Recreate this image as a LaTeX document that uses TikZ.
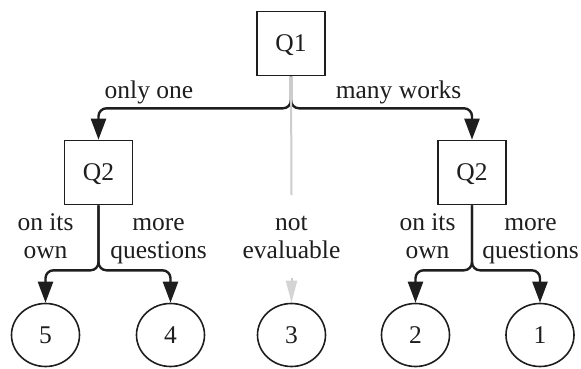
\documentclass[tikz,border=0pt]{standalone}
\usepackage{fontspec}
\setmainfont{Liberation Serif}
\usetikzlibrary{arrows.meta,shapes.geometric}
\definecolor{ink}{RGB}{30,30,30}
\definecolor{lightline}{RGB}{205,205,205}
\definecolor{lighttip}{RGB}{212,212,212}
\begin{document}
\begin{tikzpicture}[x=1pt,y=-1pt,
  every node/.style={font=\fontsize{25.5}{28.5}\selectfont, text=ink},
  qbox/.style={draw=ink, line width=1.6pt, rectangle, minimum width=68pt, minimum height=64pt, inner sep=0pt, text depth=0pt},
  leaf/.style={draw=ink, line width=1.6pt, ellipse, minimum width=68pt, minimum height=63pt, inner sep=0pt},
  conn/.style={draw=ink, line width=2.4pt, rounded corners=8pt, -{Triangle[length=21pt,width=15pt,sharp]}},
  greyconn/.style={draw=lightline, line width=2pt},
  lbl/.style={align=center, inner sep=0pt}
]
\useasboundingbox (0,0) rectangle (581,369);

% nodes
\node[qbox] (q1) at (291,43.5) {Q1};
\node[qbox] (q2l) at (98.5,172.5) {Q2};
\node[qbox] (q2r) at (472,172.5) {Q2};
\node[leaf] (c5) at (45.5,335) {5};
\node[leaf] (c4) at (170.5,335) {4};
\node[leaf] (c3) at (291.5,335) {3};
\node[leaf] (c2) at (415.5,335) {2};
\node[leaf] (c1) at (540,335) {1};

% connectors
\draw[conn] (q1.south) -- ++(0,32) -| (q2l.north);
\draw[conn] (q1.south) -- ++(0,32) -| (q2r.north);
\draw[conn] (q2l.south) -- ++(0,65) -| (c5.north);
\draw[conn] (q2l.south) -- ++(0,65) -| (c4.north);
\draw[conn] (q2r.south) -- ++(0,65) -| (c2.north);
\draw[conn] (q2r.south) -- ++(0,65) -| (c1.north);

\coordinate (g1) at (291.5,195);
\coordinate (g2) at (291.5,278);
\draw[greyconn] (q1.south) -- (g1);
\draw[greyconn, -{Triangle[length=22pt,width=11pt,color=lighttip]}] (g2) -- (c3.north);

% labels
\node[anchor=base, inner sep=0pt] (lone) at (149,99) {only one};
\node[anchor=base, inner sep=0pt] (lmany) at (398.5,99) {many works};
\node[lbl] (lown1) at (45.5,239) {\strut on its\\\strut own};
\node[lbl] (lmore1) at (158.5,239) {\strut more\\\strut questions};
\node[lbl] (lnot) at (291.5,239) {\strut not\\\strut evaluable};
\node[lbl] (lown2) at (427.5,239) {\strut on its\\\strut own};
\node[lbl] (lmore2) at (530.5,239) {\strut more\\\strut questions};
\end{tikzpicture}
\end{document}
